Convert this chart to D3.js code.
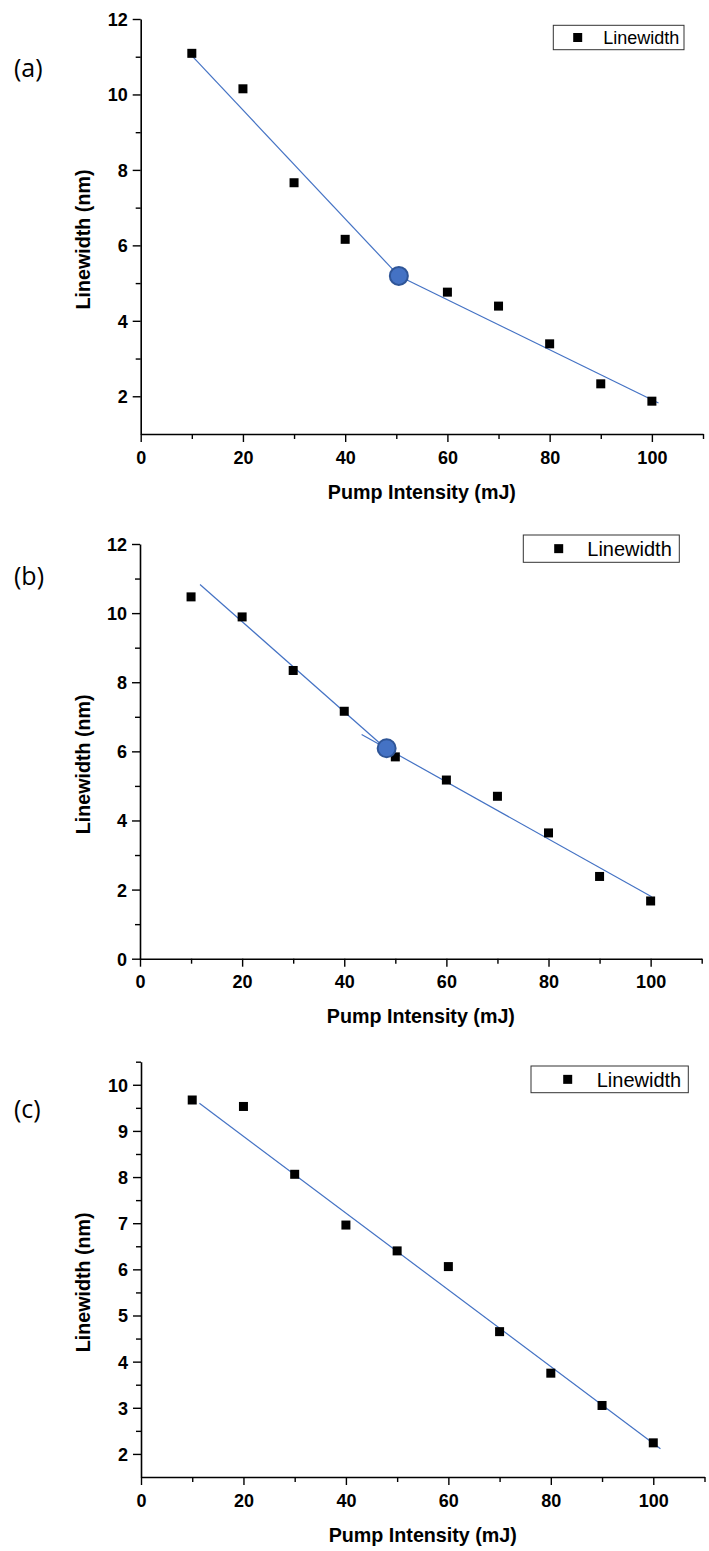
<!DOCTYPE html>
<html>
<head>
<meta charset="utf-8">
<script src="https://cdn.jsdelivr.net/npm/d3@7/dist/d3.min.js"></script>
<style>
  html, body { margin: 0; padding: 0; background: #fff; }
  svg { display: block; }
  .tick-label { font-family: "Liberation Sans", Arial, sans-serif; font-weight: bold; font-size: 18px; fill: #000; }
  .axis-title { font-family: "Liberation Sans", Arial, sans-serif; font-weight: bold; font-size: 19.7px; fill: #000; }
  .legend-text { font-family: "Liberation Sans", Arial, sans-serif; fill: #000; }
  .panel-label { font-family: "Open Sans", "Noto Sans", sans-serif; font-size: 25px; fill: #000; }
</style>
</head>
<body>
<svg id="chart" width="709" height="1551"></svg>
<script>
// Pump intensity (mJ) for each measurement
const intensityA = [10, 20, 30, 40, 60, 70, 80, 90, 100];
const intensityB = [10, 20, 30, 40, 50, 60, 70, 80, 90, 100];
const intensityC = [10, 20, 30, 40, 50, 60, 70, 80, 90, 100];

// Measured linewidth (nm)
const linewidthA = [11.09, 10.15, 7.66, 6.16, 4.76, 4.39, 3.39, 2.33, 1.87];
const linewidthB = [10.47, 9.89, 8.34, 7.16, 5.84, 5.17, 4.70, 3.64, 2.38, 1.67];
const linewidthC = [9.67, 9.53, 8.06, 6.96, 6.40, 6.06, 4.65, 3.75, 3.05, 2.24];

// Linear fit segments: [[x0, y0], [x1, y1]]
const fitA = [[[9.3, 11.13], [50.5, 5.19]], [[50.5, 5.19], [101.3, 1.82]]];
const fitB = [[[11.75, 10.83], [48.3, 6.06]], [[43.4, 6.49], [100.2, 1.79]]];
const fitC = [[[11.4, 9.60], [101.4, 2.11]]];

// Slope-change (threshold) points
const breakA = [50.5, 5.19];
const breakB = [48.3, 6.09];

// Axis ticks
const xMajor = [0, 20, 40, 60, 80, 100];
const xMinor = [10, 30, 50, 70, 90, 110];
const yMajorA = [2, 4, 6, 8, 10, 12];
const yMinorA = [3, 5, 7, 9, 11];
const yMajorB = [0, 2, 4, 6, 8, 10, 12];
const yMinorB = [1, 3, 5, 7, 9, 11];
const yMajorC = [2, 3, 4, 5, 6, 7, 8, 9, 10];
const yMinorC = [2.5, 3.5, 4.5, 5.5, 6.5, 7.5, 8.5, 9.5, 10.5];

const panelLabels = ["(a)", "(b)", "(c)"];
const xTitle = "Pump Intensity (mJ)";
const yTitle = "Linewidth (nm)";
const legendLabel = "Linewidth";

const panels = [
  { label: panelLabels[0], xs: intensityA, ys: linewidthA, fit: fitA, brk: breakA,
    yDomain: [1, 12], yMajor: yMajorA, yMinor: yMinorA,
    xRange: [140.7, 703], yRange: [434, 19], labelY: 76.7,
    legend: { x: 553.3, y: 25.3, w: 130.7, h: 24.4, mx: 24.4, tx: 50, fs: 18 } },
  { label: panelLabels[1], xs: intensityB, ys: linewidthB, fit: fitB, brk: breakB,
    yDomain: [0, 12], yMajor: yMajorB, yMinor: yMinorB,
    xRange: [140, 701.7], yRange: [958.7, 544], labelY: 585,
    legend: { x: 523.3, y: 535, w: 156, h: 27.3, mx: 35.4, tx: 64, fs: 20 } },
  { label: panelLabels[2], xs: intensityC, ys: linewidthC, fit: fitC, brk: null,
    yDomain: [1.5, 10.5], yMajor: yMajorC, yMinor: yMinorC,
    xRange: [141, 704.5], yRange: [1477, 1061.7], labelY: 1118,
    legend: { x: 531, y: 1066, w: 157.3, h: 26.7, mx: 36.7, tx: 65.7, fs: 20 } }
];

const svg = d3.select("#chart");
const lineColor = "#4472C4";
const majorLen = 8, minorLen = 5;

panels.forEach(p => {
  const x = d3.scaleLinear().domain([0, 110]).range(p.xRange);
  const y = d3.scaleLinear().domain(p.yDomain).range(p.yRange);
  const g = svg.append("g");
  const x0 = p.xRange[0], y0 = p.yRange[0];

  // X axis: major and minor ticks pointing outward
  const xAxis = g.append("g").attr("transform", `translate(0,${y0})`);
  xAxis.call(d3.axisBottom(x).tickValues(xMajor).tickSize(majorLen).tickSizeOuter(0).tickFormat(d3.format("d")));
  xAxis.append("g").call(d3.axisBottom(x).tickValues(xMinor).tickSize(minorLen).tickSizeOuter(0).tickFormat(""))
    .select(".domain").remove();
  xAxis.selectAll(".domain").attr("stroke", "#000").attr("stroke-width", 1.6);
  xAxis.selectAll(".tick line").attr("stroke", "#000").attr("stroke-width", 1.4);
  xAxis.selectAll(".tick text").attr("class", "tick-label").attr("y", 0).attr("dy", 29.5)
    .style("font-family", null).style("font-size", null);
  xAxis.attr("font-family", null).attr("font-size", null);

  // Y axis
  const yAxis = g.append("g").attr("transform", `translate(${x0},0)`);
  yAxis.call(d3.axisLeft(y).tickValues(p.yMajor).tickSize(majorLen).tickSizeOuter(0).tickFormat(d3.format("d")));
  yAxis.append("g").call(d3.axisLeft(y).tickValues(p.yMinor).tickSize(minorLen).tickSizeOuter(0).tickFormat(""))
    .select(".domain").remove();
  yAxis.selectAll(".domain").attr("stroke", "#000").attr("stroke-width", 1.6);
  yAxis.selectAll(".tick line").attr("stroke", "#000").attr("stroke-width", 1.4);
  yAxis.selectAll(".tick text").attr("class", "tick-label").attr("x", -13).attr("dy", "0.36em");
  yAxis.attr("font-family", null).attr("font-size", null);

  // Axis titles
  g.append("text").attr("class", "axis-title")
    .attr("x", (p.xRange[0] + p.xRange[1]) / 2).attr("y", y0 + 64.5)
    .attr("text-anchor", "middle").text(xTitle);
  const yc = (p.yRange[0] + p.yRange[1]) / 2 + 13;
  g.append("text").attr("class", "axis-title")
    .attr("transform", `translate(89.5,${yc}) rotate(-90)`)
    .attr("text-anchor", "middle").text(yTitle);

  // Panel label
  g.append("text").attr("class", "panel-label").attr("x", 14).attr("y", p.labelY).text(p.label);

  // Fit lines
  const line = d3.line().x(d => x(d[0])).y(d => y(d[1]));
  g.selectAll(".fit").data(p.fit).join("path")
    .attr("d", line).attr("fill", "none").attr("stroke", lineColor).attr("stroke-width", 1.2);

  // Data points (squares)
  const s = 9;
  g.selectAll(".pt").data(p.xs.map((v, i) => [v, p.ys[i]])).join("rect")
    .attr("x", d => x(d[0]) - s / 2).attr("y", d => y(d[1]) - s / 2)
    .attr("width", s).attr("height", s).attr("fill", "#000");

  // Threshold marker
  if (p.brk) {
    g.append("circle").attr("cx", x(p.brk[0])).attr("cy", y(p.brk[1])).attr("r", 9)
      .attr("fill", "#4472C4").attr("stroke", "#2F5597").attr("stroke-width", 2);
  }

  // Legend
  const L = p.legend;
  const lg = g.append("g").attr("transform", `translate(${L.x},${L.y})`);
  lg.append("rect").attr("width", L.w).attr("height", L.h)
    .attr("fill", "#fff").attr("stroke", "#333").attr("stroke-width", 1);
  lg.append("rect").attr("x", L.mx - s / 2).attr("y", L.h / 2 - s / 2)
    .attr("width", s).attr("height", s).attr("fill", "#000");
  lg.append("text").attr("class", "legend-text").attr("x", L.tx).attr("y", L.h / 2)
    .attr("dy", "0.36em").style("font-size", L.fs + "px").text(legendLabel);
});
</script>
</body>
</html>
